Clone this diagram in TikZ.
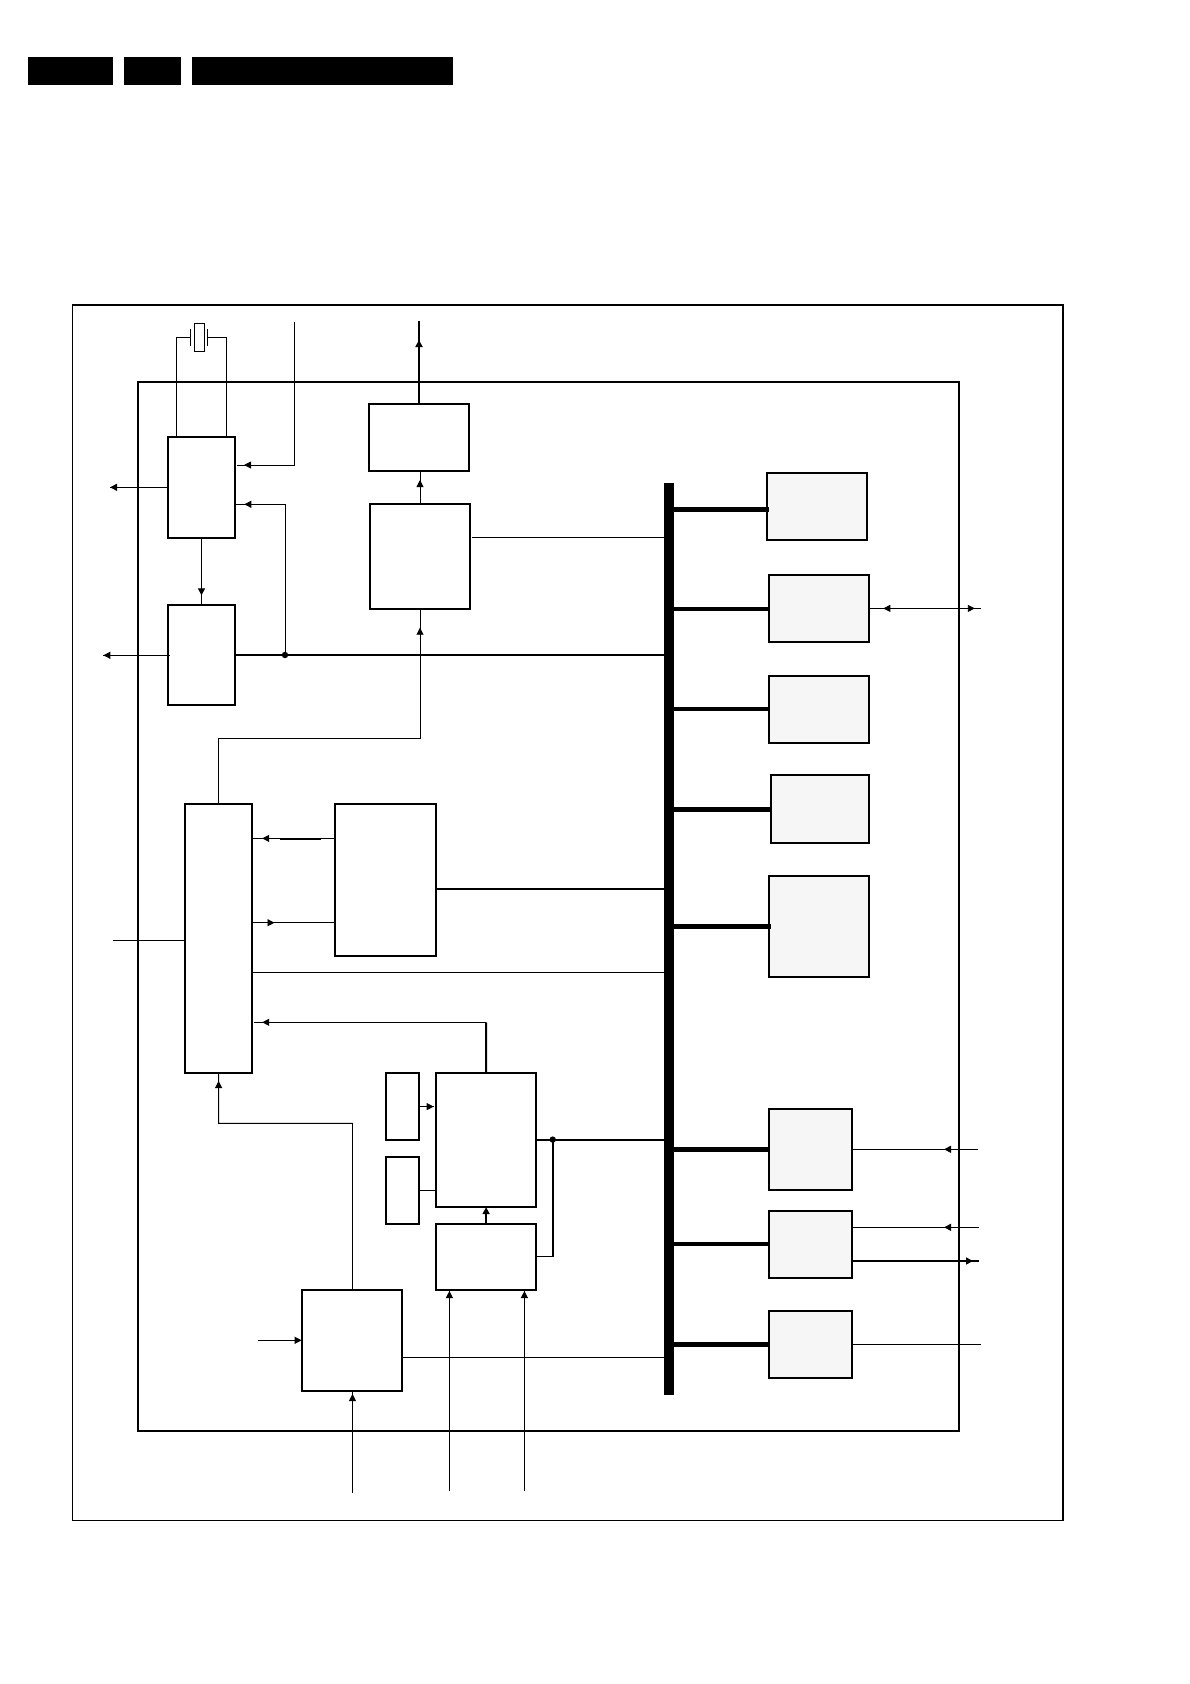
\documentclass[tikz,border=0pt]{standalone}
\usepackage{tikz}
\usetikzlibrary{arrows.meta,decorations.markings}
\tikzset{
  blk/.style 2 args={draw,line width=1.9pt,fill=white,inner sep=0pt,outer sep=0pt,anchor=north west,minimum width=#1,minimum height=#2},
  greyblk/.style 2 args={blk={#1}{#2},fill=black!3.5},
  headbar/.style 2 args={fill=black,inner sep=0pt,outer sep=0pt,anchor=north west,minimum width=#1,minimum height=#2},
  wire/.style={line width=0.9pt},
  wirebold/.style={line width=1.8pt},
  tipat/.style={postaction={decorate,decoration={markings,mark=at position #1 with {\arrow{Triangle[length=7pt,width=7pt]}}}}}
}

\begin{document}
\begin{tikzpicture}[x=1pt,y=-1pt]
\useasboundingbox (0,0) rectangle (1190,1684);

% header bars
\node[headbar={85}{28}] (headA) at (28,57) {};
\node[headbar={57}{28}] (headB) at (124,57) {};
\node[headbar={261}{28}] (headC) at (192,57) {};

% frames
\node[draw,line width=1pt,inner sep=0pt,outer sep=0pt,anchor=north west,minimum width=991,minimum height=1215] (outerfr) at (72,305) {};
\draw[line width=2pt] (outerfr.north west) -- (outerfr.north east) -- (outerfr.south east);
\node[draw,line width=2pt,inner sep=0pt,outer sep=0pt,anchor=north west,minimum width=821,minimum height=1049] (innerfr) at (138,382) {};

% left blocks
\node[blk={67.6}{101.3}] (osc) at (167.7,436.7) {};
\node[blk={67.6}{100.3}] (div) at (167.7,604.7) {};
\node[blk={100.6}{67.3}] (drv) at (368.7,403.7) {};
\node[blk={100}{105.3}] (enc) at (370,503.7) {};
\node[blk={67.4}{268.2}] (mux) at (184.9,804.4) {};
\node[blk={101.4}{151.3}] (mem) at (334.9,804.4) {};
\node[blk={33.3}{67.5}] (smlA) at (385.8,1072.6) {};
\node[blk={33.3}{67}] (smlB) at (385.8,1156.9) {};
\node[blk={100.2}{134.5}] (ctrl) at (436,1072.6) {};
\node[blk={100.2}{66.1}] (reg) at (436,1223.9) {};
\node[blk={100.7}{101}] (tun) at (301.6,1290) {};

% blocks on the bus
\node[fill=black,inner sep=0pt,outer sep=0pt,anchor=north west,minimum width=10,minimum height=912] (bus) at (664,483) {};
\node[greyblk={100.3}{67.2}] (perA) at (767,472.7) {};
\node[greyblk={100.6}{67.1}] (perB) at (768.7,574.7) {};
\node[greyblk={100.6}{67.4}] (perC) at (768.7,675.6) {};
\node[greyblk={98.6}{67.5}] (perD) at (770.7,775.4) {};
\node[greyblk={100.6}{101.3}] (perE) at (768.7,875.6) {};
\node[greyblk={83.3}{81.3}] (perF) at (768.7,1108.7) {};
\node[greyblk={83.3}{67.6}] (perG) at (768.7,1210.7) {};
\node[greyblk={83.3}{67.3}] (perH) at (768.7,1310.7) {};

\foreach \blkname/\ypos/\wd/\over in {perA/509.2/5/2,perB/608.8/4/0,perC/709/4/0,perD/809.5/5/0,perE/926.3/5/2,perF/1149.3/5/0,perG/1244/4.5/0,perH/1344.3/5/0}
  \draw[line width=\wd pt] (bus.east |- 0,\ypos) -- ([xshift=\over pt]\blkname.west |- 0,\ypos);

% crystal
\node[draw,line width=1pt,inner sep=0pt,outer sep=0pt,anchor=north west,minimum width=10.4,minimum height=28] (xtal) at (194.3,323) {};
\coordinate (plateL) at (190.7,337.3);
\coordinate (plateR) at (207.3,337.3);
\draw[line width=1.3pt] (plateL) +(0,-8.4) -- +(0,8.4);
\draw[line width=1.3pt] (plateR) +(0,-8.4) -- +(0,8.4);
\draw[wire] (176.3,0 |- osc.north) |- (plateL);
\draw[wire] (226.7,0 |- osc.north) |- (plateR);

% top left wires
\coordinate (clkin) at (294.3,322);
\coordinate (clkend) at (237,465);
\coordinate (oscout) at (110,487.3);
\coordinate (divin) at (170,655.3);
\coordinate (divout) at (103.3,655.3);
\coordinate (jdiv) at (285,655);
\coordinate (vidout) at (419,321);
\coordinate (encout) at (472,537.7);
\coordinate (muxup) at (420,738.3);
\draw[wire,tipat=-7pt] (clkin) |- (clkend);
\draw[wire,tipat=1] (osc.west |- oscout) -- (oscout);
\draw[wire,tipat=1] (divin) -- (divout);
\draw[wire,tipat=0.86] (osc.south) -- (div.north);
\draw[wirebold] (div.east) -- (bus.west |- div.east);
\fill (jdiv) circle (3.2pt);
\draw[wire,tipat=-9pt] (jdiv) |- (osc.east |- 0,504.3);
\draw[wirebold,tipat=63.7pt] (drv.north) -- (vidout);
\draw[wire,tipat=-9pt] (enc.north) -- (enc.north |- drv.south);
\draw[wire] (encout) -- (bus.west |- encout);
\draw[wire,tipat=-18.7pt] (mux.north) |- (muxup) -- (enc.south);

% middle wires
\coordinate (muxin) at (113,940.4);
\coordinate (ctrlup) at (486.1,1022.3);
\coordinate (muxback) at (254.2,1022.3);
\draw[wire,tipat=72.7pt] (mem.west |- 0,838.4) -- (mux.east |- 0,838.4);
\draw[line width=1.2pt] (280,839) -- (321,839);
\draw[wire,tipat=22.2pt] (mux.east |- 0,922.7) -- (mem.west |- 0,922.7);
\draw[wire] (muxin) -- (mux.west |- muxin);
\draw[wirebold] (mem.east |- 0,888.7) -- (bus.west |- 0,888.7);
\draw[wire] (mux.east |- 0,972.5) -- (bus.west |- 0,972.5);
\draw[wirebold] (ctrl.north) -- (ctrlup);
\draw[wire,tipat=-8pt] (ctrlup) -- (muxback);

% lower wires
\coordinate (jctrl) at (552.7,1139.6);
\coordinate (tunup) at (352.5,1123.3);
\coordinate (muxbk) at (218.6,1123.3);
\coordinate (tunin) at (258,1340.3);
\coordinate (tunbot) at (352.5,1493.4);
\coordinate (regA) at (449.4,1490.6);
\coordinate (regB) at (524.4,1490.6);
\draw[wire,tipat=1] (smlA.east |- 0,1106.6) -- (433.7,1106.6);
\draw[wire] (smlB.east |- 0,1190.4) -- (ctrl.west |- 0,1190.4);
\draw[wirebold] (ctrl.east |- jctrl) -- (bus.west |- jctrl);
\fill (jctrl) circle (3.2pt);
\draw[wirebold] (jctrl) |- (reg.east |- 0,1256.5);
\draw[wirebold,-{Triangle[length=7pt,width=7pt]}] (reg.north) -- (ctrl.south);
\draw[wire,tipat=-8.4pt] (tun.north -| tunup) -- (tunup) -- (muxbk) -- (mux.south);
\draw[line width=1.2pt,-{Triangle[length=7pt,width=7pt]}] (tunin) -- (tun.west |- tunin);
\draw[wire] (tun.east |- 0,1357.5) -- (bus.west |- 0,1357.5);
\draw[wire,tipat=-3pt] (tunbot) -- (tun.south -| tunbot);
\draw[wire,tipat=-1pt] (regA) -- (reg.south -| regA);
\draw[wire,tipat=-1pt] (regB) -- (reg.south -| regB);

% right side wires
\coordinate (perBend) at (981,608.4);
\coordinate (perFin) at (978,1149.3);
\coordinate (perGin) at (979,1227.3);
\coordinate (perGout) at (979,1261);
\coordinate (perHend) at (981,1344.3);
\draw[wire,tipat=97.7pt] (perBend) -- (perB.east |- perBend);
\draw[wire,tipat=105.5pt] (perB.east |- perBend) -- (perBend);
\draw[wire,tipat=34pt] (perFin) -- (perF.east |- perFin);
\draw[wire,tipat=35pt] (perGin) -- (perG.east |- perGin);
\draw[line width=1.5pt,tipat=-6pt] (perG.east |- perGout) -- (perGout);
\draw[wire] (perH.east |- perHend) -- (perHend);
\end{tikzpicture}
\end{document}
